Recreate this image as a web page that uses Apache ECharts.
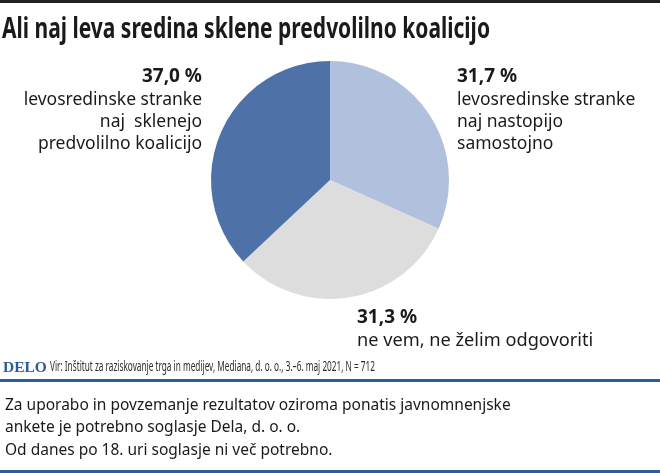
<!DOCTYPE html>
<html><head><meta charset="utf-8">
<script src="https://cdn.jsdelivr.net/npm/echarts@6/dist/echarts.min.js"></script>
<style>html,body{margin:0;padding:0;background:#fff}#c{width:660px;height:473px}</style>
</head><body><div id="c"></div>
<script>
const categories = ['levosredinske stranke\nnaj nastopijo\nsamostojno', 'ne vem, ne želim odgovoriti', 'levosredinske stranke\nnaj  sklenejo\npredvolilno koalicijo'];
const values = [31.7, 31.3, 37.0];
const sliceColors = ['#b1c0dd', '#dddddd', '#4e72a8'];
const title = 'Ali naj leva sredina sklene predvolilno koalicijo';
const source = 'Vir: Inštitut za raziskovanje trga in medijev, Mediana, d. o. o., 3.–6. maj 2021, N = 712';
const note = 'Za uporabo in povzemanje rezultatov oziroma ponatis javnomnenjske\nankete je potrebno soglasje Dela, d. o. o.\nOd danes po 18. uri soglasje ni več potrebno.';

const fmt = v => v.toFixed(1).replace('.', ',') + ' %';
const cv = document.createElement('canvas').getContext('2d');
function fitScale(text, font, target) { cv.font = font; return target / cv.measureText(text).width; }

const chart = echarts.init(document.getElementById('c'), null, {renderer: 'canvas'});
const labelFont = '"Noto Sans", sans-serif';
const labelPos = [
  {x: 457, y: 65, align: 'left', size: 17.5},
  {x: 357, y: 306, align: 'left', size: 18.2},
  {x: 202, y: 65, align: 'right', size: 17.5}
];
const labelGraphics = values.map((v, i) => ({
  type: 'text', x: labelPos[i].x, y: labelPos[i].y,
  style: {
    text: '{b|' + fmt(v) + '}\n' + categories[i].split('\n').map(s => '{n|' + s + '}').join('\n'),
    align: labelPos[i].align, verticalAlign: 'top',
    rich: {
      b: {font: 'bold 19px ' + labelFont, fill: '#1a1a1a', lineHeight: 24, align: labelPos[i].align},
      n: {font: labelPos[i].size + 'px ' + labelFont, fill: '#1a1a1a', lineHeight: 22, align: labelPos[i].align}
    }
  }
}));

const titleFont = 'bold 28px "Noto Sans", sans-serif';
const srcFont = '14px "Noto Sans", sans-serif';
const titleScale = fitScale(title, titleFont, 488);
const srcScale = fitScale(source, srcFont, 325);

chart.setOption({
  animation: false,
  backgroundColor: '#fff',
  series: [{
    type: 'pie',
    center: [330, 180],
    radius: [0, 119],
    startAngle: 90,
    clockwise: true,
    label: {show: false},
    labelLine: {show: false},
    itemStyle: {borderWidth: 0},
    emphasis: {disabled: true},
    data: values.map((v, i) => ({value: v, name: categories[i], itemStyle: {color: sliceColors[i]}}))
  }],
  graphic: [
    {type: 'rect', shape: {x: 0, y: 0, width: 660, height: 3}, style: {fill: '#231f20'}},
    {type: 'text', x: 2, y: 30, scaleX: titleScale, style: {text: title, font: titleFont, fill: '#1a1a1a', verticalAlign: 'middle'}},
    ...labelGraphics,
    {type: 'text', x: 3, y: 360, style: {text: 'DELO', font: 'bold 15.5px "Liberation Serif", serif', fill: '#2d5b97'}},
    {type: 'text', x: 50, y: 367, scaleX: srcScale, style: {text: source, font: srcFont, fill: '#2a2a2a', verticalAlign: 'middle'}},
    {type: 'rect', shape: {x: 0, y: 379, width: 660, height: 3}, style: {fill: '#2f5d99'}},
    {type: 'text', x: 5, y: 394, style: {text: note, font: '15.5px "Noto Sans", sans-serif', fill: '#1a1a1a', lineHeight: 22.5}},
    {type: 'rect', shape: {x: 0, y: 470, width: 660, height: 3}, style: {fill: '#2f5d99'}}
  ]
});
</script></body></html>
